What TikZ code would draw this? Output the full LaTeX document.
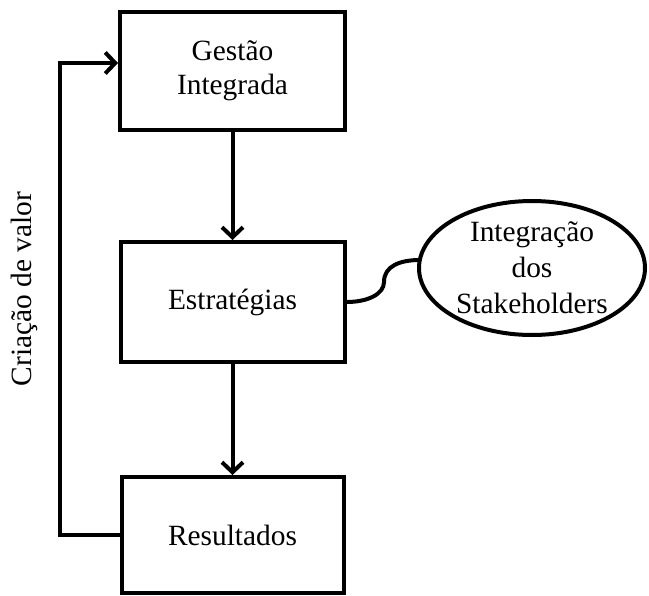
\documentclass[tikz,border=0pt]{standalone}
\usepackage{fontspec}
\setmainfont{Liberation Serif}
\usetikzlibrary{arrows.meta,shapes.geometric}
\begin{document}
\begin{tikzpicture}[x=1bp,y=-1bp,
  line width=4bp,
  box/.style={draw, rectangle, inner sep=0pt, align=center,
    font=\fontsize{29.5}{34}\selectfont},
  bubble/.style={draw, ellipse, inner sep=0pt, align=center,
    font=\fontsize{29.5}{36}\selectfont},
  flow/.style={-{Straight Barb[length=10bp,width=21bp,line width=4bp]}}
]
\useasboundingbox (0,0) rectangle (649,596);

% process boxes
\node[box, minimum width=225bp, minimum height=118bp] (g) at (232.5,71) {Gestão\\Integrada};
\node[box, minimum width=224bp, minimum height=120bp] (e) at (232.5,302) {Estratégias};
\node[box, minimum width=222bp, minimum height=116bp] (r) at (232.5,535) {Resultados};

% stakeholder bubble
\node[bubble, minimum width=226bp, minimum height=134bp] (s) at (532,268) {Integração\\dos\\Stakeholders};

% main flow
\draw[flow] (g.south) -- (e.north);
\draw[flow] (e.south) -- (r.north);

% value feedback loop
\coordinate (lb) at (60,535);
\draw[flow] (r.west) -- (lb) |- ([yshift=8bp]g.west);
\node[rotate=90, font=\fontsize{29.5}{34}\selectfont] (cv) at (24,289) {Criação de valor};

% link to the bubble
\coordinate (sl) at (420,260);
\draw (e.east) .. controls (368,302) and (384,294) .. (384,282)
      .. controls (384,266) and (400,260) .. (sl);
\end{tikzpicture}
\end{document}
